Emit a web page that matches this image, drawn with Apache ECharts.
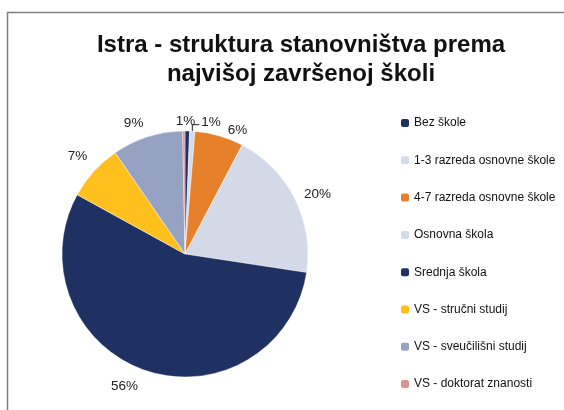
<!DOCTYPE html>
<html>
<head>
<meta charset="utf-8">
<script src="https://cdn.jsdelivr.net/npm/echarts@6/dist/echarts.min.js"></script>
<style>
  html, body { margin: 0; padding: 0; background: #fff; }
  #main { width: 564px; height: 410px; }
</style>
</head>
<body>
<div id="main"></div>
<script>
const categories = [
  'Bez škole',
  '1-3 razreda osnovne škole',
  '4-7 razreda osnovne škole',
  'Osnovna škola',
  'Srednja škola',
  'VS - stručni studij',
  'VS - sveučilišni studij',
  'VS - doktorat znanosti',
];
const shares = [0.6, 0.7, 6.4, 19.7, 55.6, 7.4, 9.3, 0.3];
const shownLabels = ['1%', '1%', '6%', '20%', '56%', '7%', '9%', ''];
const sliceColors = ['#1f3163', '#d5dbe8', '#e6802a', '#d3d9e6', '#1f3163', '#ffc01e', '#95a2c2', '#d9958f'];

const chart = echarts.init(document.getElementById('main'));

const cx = 185;
const cy = 254;
const pieR = 123;
const labelR = 145;
// small hand nudges so labels sit where the spreadsheet put them
const labelNudge = { 0: [-2, 0], 2: [12, 16], 3: [3, 6], 4: [-14, -5], 6: [-7, 7] };

const total = shares.reduce((a, b) => a + b, 0);
const midAngle = (i) => {
  let before = 0;
  for (let k = 0; k < i; k++) before += shares[k];
  return ((before + shares[i] / 2) / total) * Math.PI * 2;
};

const pieData = categories.map((name, i) => {
  const item = { name, value: shares[i], itemStyle: { color: sliceColors[i] } };
  if (i === 1) item.labelLine = { show: true, lineStyle: { color: '#222', width: 1 } };
  return item;
});

chart.setOption({
  animation: false,
  title: {
    text: 'Istra - struktura stanovništva prema\nnajvišoj završenoj školi',
    left: 296,
    top: 26,
    textAlign: 'center',
    textStyle: { fontFamily: 'Liberation Sans', fontWeight: 'bold', fontSize: 24, color: '#111', lineHeight: 29 },
  },
  graphic: [{
    type: 'rect',
    shape: { x: 7.5, y: 12.5, width: 570, height: 410 },
    style: { fill: 'none', stroke: '#808080', lineWidth: 1.5 },
  }],
  legend: {
    orient: 'vertical',
    left: 396,
    top: 112,
    itemWidth: 8,
    itemHeight: 8,
    itemGap: 25.3,
    itemStyle: { borderWidth: 0 },
    textStyle: { fontFamily: 'Liberation Sans', fontSize: 12, color: '#111' },
    data: categories,
  },
  series: [{
    type: 'pie',
    center: [cx, cy],
    radius: pieR,
    startAngle: 90,
    clockwise: true,
    avoidLabelOverlap: false,
    data: pieData,
    itemStyle: { borderColor: '#fff', borderWidth: 0.4 },
    label: {
      position: 'outside',
      formatter: (p) => shownLabels[p.dataIndex],
      fontFamily: 'Liberation Sans',
      fontSize: 13.5,
      color: '#222',
    },
    labelLine: { show: false },
    labelLayout: (p) => {
      const i = p.dataIndex;
      const a = midAngle(i);
      if (i === 1) {
        const ex = cx + pieR * Math.sin(a);
        const ey = cy - pieR * Math.cos(a);
        return {
          x: ex + 9, y: ey - 9, align: 'left', verticalAlign: 'middle',
          labelLinePoints: [[ex, ey], [ex, ey - 6.5], [ex + 7, ey - 6.5]],
        };
      }
      const r = i === 0 ? 133 : labelR;
      const n = labelNudge[i] || [0, 0];
      return {
        x: cx + r * Math.sin(a) + n[0],
        y: cy - r * Math.cos(a) + n[1],
        align: 'center',
        verticalAlign: 'middle',
      };
    },
  }],
});
</script>
</body>
</html>
